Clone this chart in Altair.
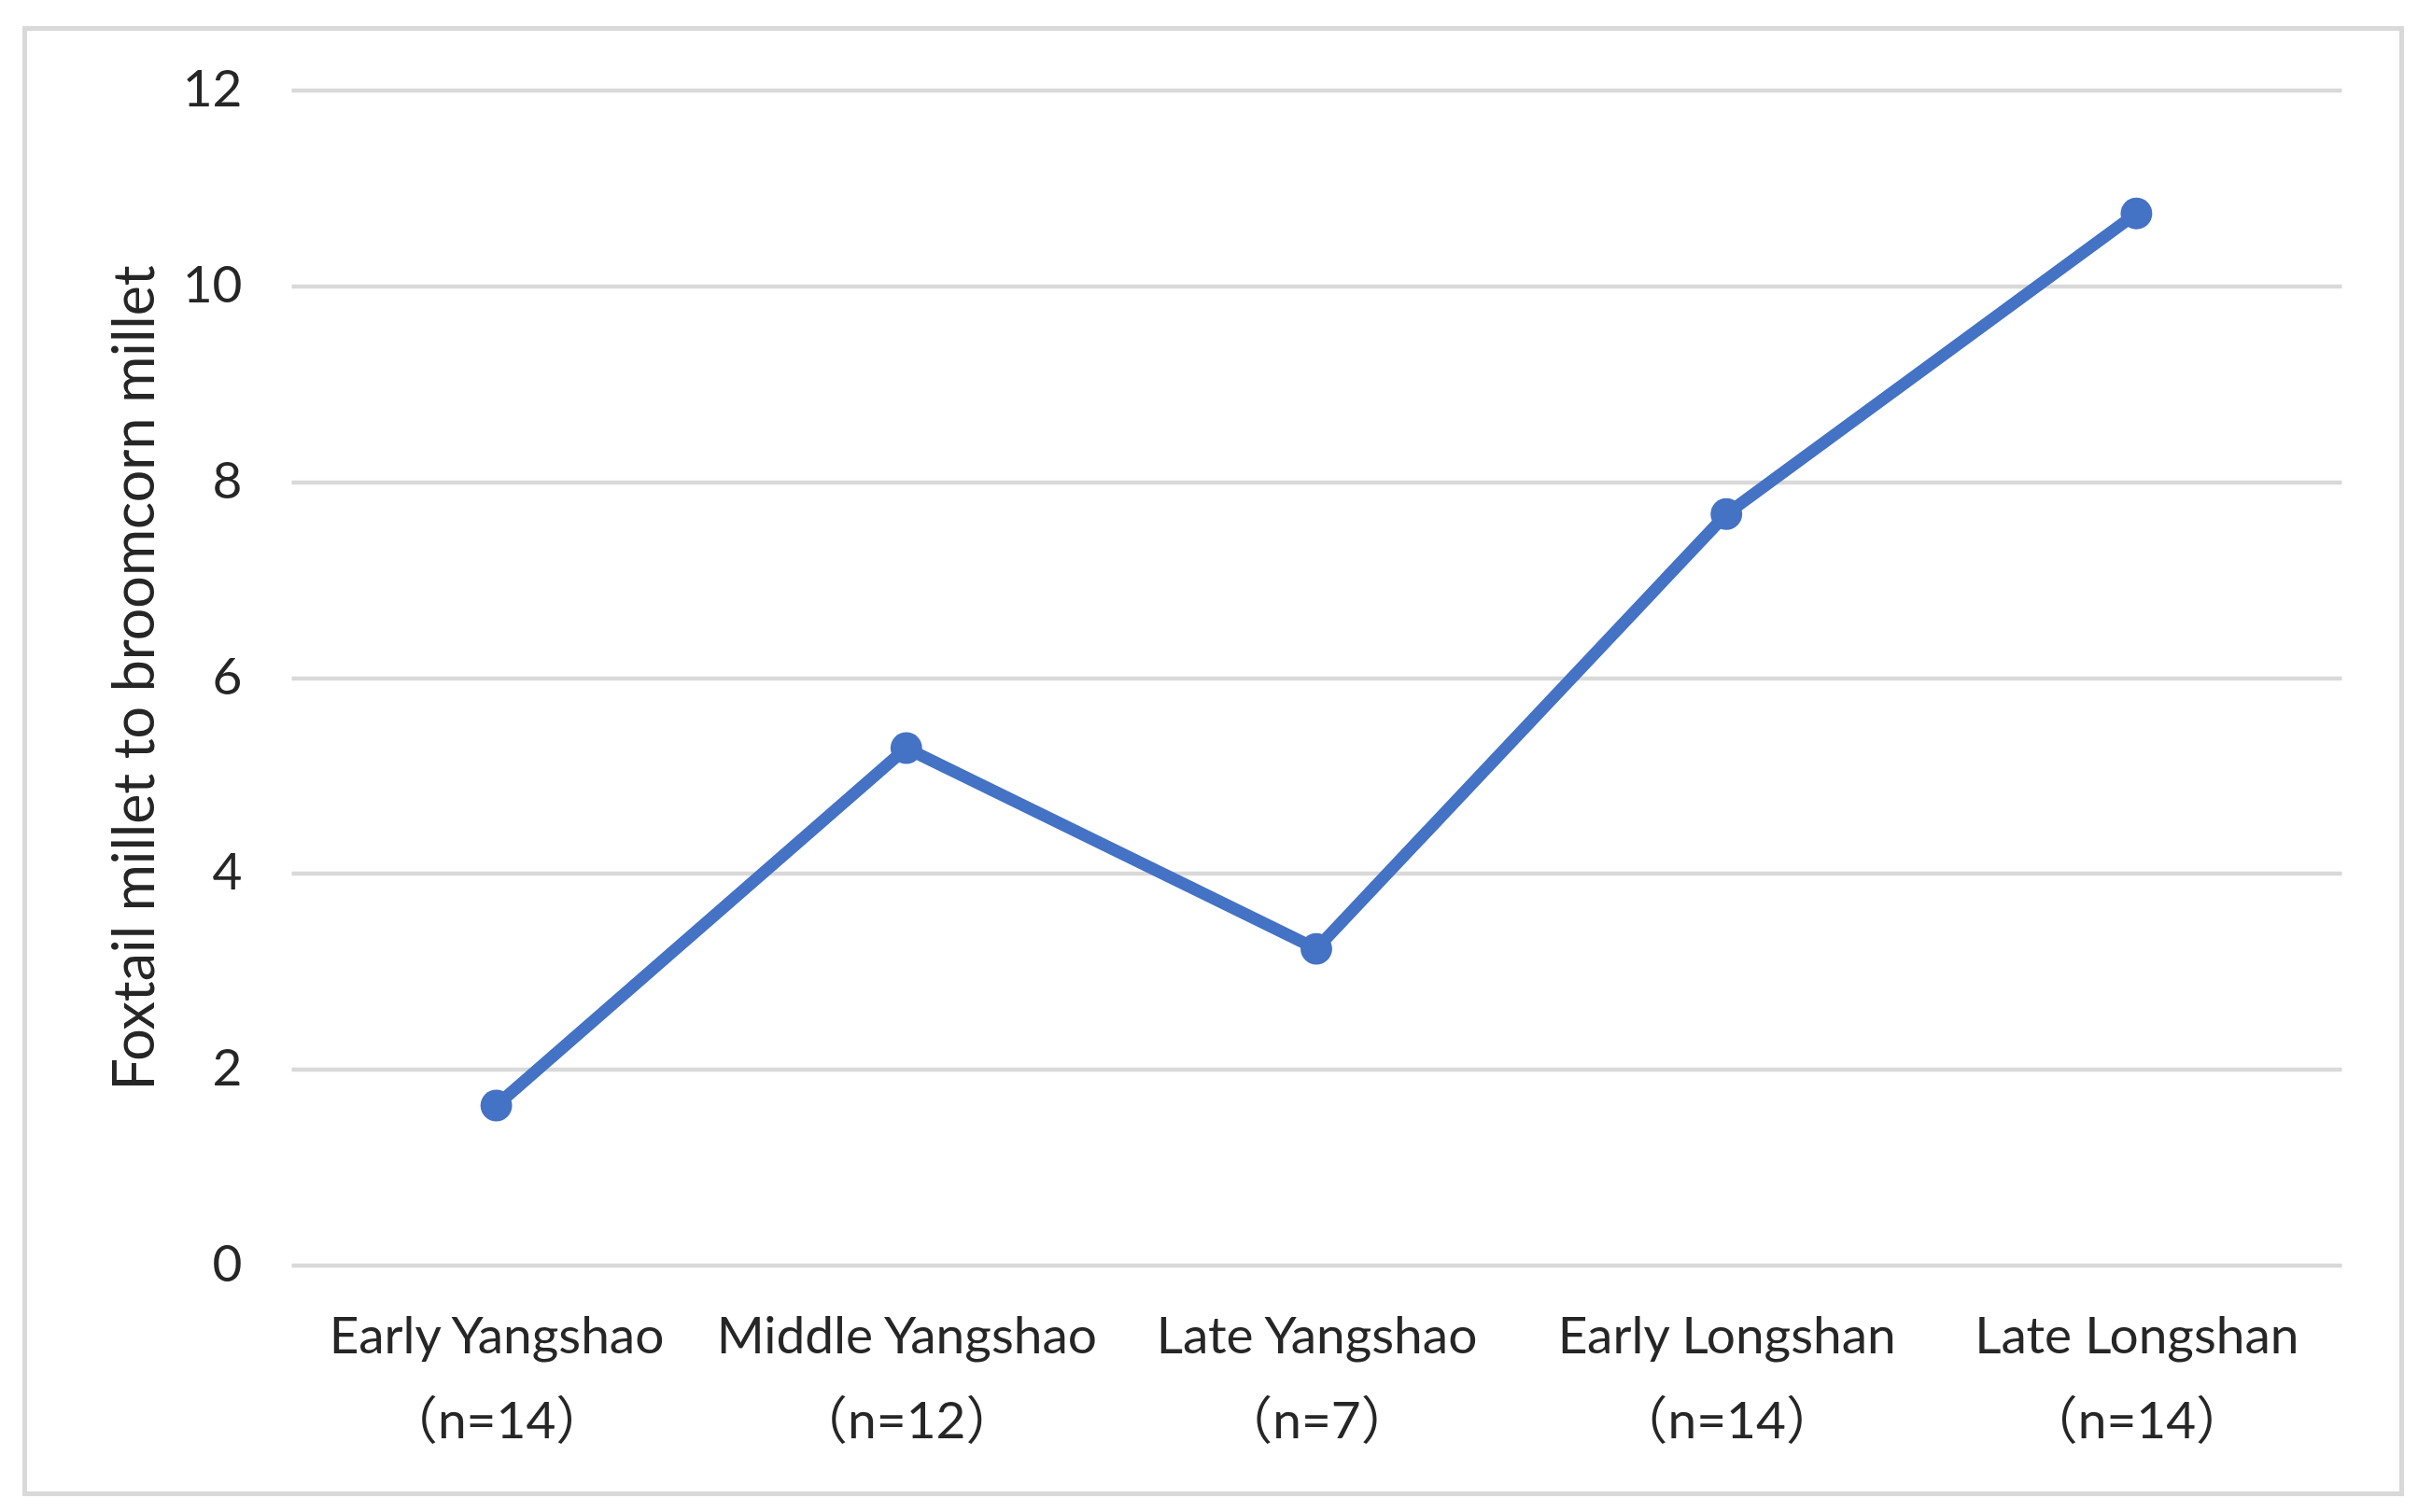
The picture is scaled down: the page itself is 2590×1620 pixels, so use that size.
import altair as alt
import pandas as pd

categories = ["Early Yangshao|（n=14）", "Middle Yangshao|（n=12）", "Late Yangshao|（n=7）",
              "Early Longshan|（n=14）", "Late Longshan|（n=14）"]
ratios = [1.63, 5.28, 3.23, 7.67, 10.74]
y_ticks = [0, 2, 4, 6, 8, 10, 12]

df = pd.DataFrame({"period": categories, "ratio": ratios})

FONT = "Lato, Noto Sans CJK SC"
TEXT = "#262626"
GRID = "#d9d9d9"
BLUE = "#4472C4"

W, H = 2196, 1259

x = alt.X("period:N", sort=categories, scale=alt.Scale(paddingInner=0, paddingOuter=0),
          axis=alt.Axis(title=None, labelAngle=0, domain=False, ticks=False, grid=False,
                        labelExpr="split(datum.label, '|')", labelFont=FONT, labelFontSize=55,
                        labelColor=TEXT, labelPadding=51, labelLineHeight=91, labelBaseline="top",
                        labelLimit=0))
y = alt.Y("ratio:Q", scale=alt.Scale(domain=[0, 12], nice=False),
          axis=alt.Axis(values=y_ticks, title="Foxtail millet to broomcorn millet",
                        domain=False, ticks=False, grid=True, gridColor=GRID, gridWidth=4.5,
                        labelFont=FONT, labelFontSize=55, labelColor=TEXT, labelPadding=53,
                        titleFont=FONT, titleFontSize=61, titleFontWeight="normal", titleColor=TEXT,
                        titleX=164 - 312, titleY=H / 2, titleAngle=270, titleBaseline="alphabetic",
                        titleAlign="center", titleLimit=0))

line = alt.Chart(df).mark_line(color=BLUE, strokeWidth=13).encode(x=x, y=y)
pts = alt.Chart(df).mark_circle(color=BLUE, opacity=1, size=1150).encode(x=x, y=y)

frame = alt.Chart(alt.Data(values=[{"a": 1}])).mark_rect(
    fill=None, stroke=GRID, strokeWidth=5
).encode(
    x=alt.value(26.5 - 312), x2=alt.value(2572.5 - 312),
    y=alt.value(30.5 - 96.5), y2=alt.value(1600.5 - 96.5)
)

chart = alt.layer(frame, line, pts).properties(
    width=W, height=H,
    autosize=alt.AutoSizeParams(type="none"),
    padding={"left": 304, "top": 88.5, "right": 74, "bottom": 256.5},
    background="white",
).configure_view(stroke=None)

chart.save("out.html", embed_options={"renderer": "svg", "actions": False})
